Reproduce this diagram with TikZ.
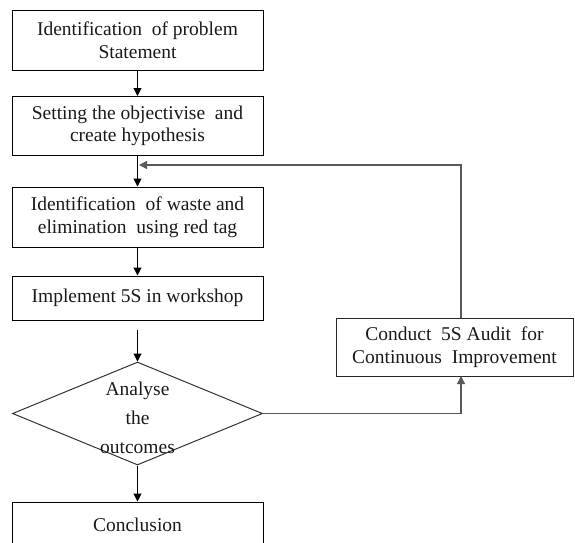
\documentclass[tikz,border=0pt]{standalone}
\usepackage{fontspec}
\setmainfont{Liberation Serif}
\usetikzlibrary{shapes.geometric,arrows.meta}
\begin{document}
\begin{tikzpicture}[x=1pt,y=-1pt,
  every node/.style={font=\fontsize{19.5}{22.5}\selectfont, text=black!90},
  stepbox/.style={draw=black, line width=1pt, rectangle, minimum width=251, inner sep=0, align=center},
  decide/.style={draw=black!80, line width=1pt, diamond, minimum width=250, minimum height=103, inner sep=0},
  flow/.style={draw=black, line width=1pt, -{Triangle[length=8pt,width=8pt]}},
  back/.style={draw=black!65, line width=1.3pt, -{Triangle[length=8pt,width=8pt]}}]
\useasboundingbox (0,0) rectangle (575,542);
\node[stepbox, minimum height=60] (s1) at (137.5,40) {Identification\ \ of problem\\Statement};
\node[stepbox, minimum height=59] (s2) at (137.5,126) {Setting the objectivise\ \ and\\create hypothesis};
\node[stepbox, minimum height=60] (s3) at (137.5,217) {Identification\ \ of waste and\\elimination\ \ using red tag};
\node[stepbox, minimum height=44] (s4) at (137.5,298) {Implement 5S in workshop};
\node[decide] (d) at (137.5,413.5) {};
\node[align=center, font=\fontsize{19.5}{29}\selectfont, inner sep=0] (dt) at (137.5,418) {Analyse\\the\\outcomes};
\node[stepbox, minimum height=46] (s5) at (137.5,525) {Conclusion};
\node[stepbox, draw=black!85, minimum width=237, minimum height=58] (audit) at (454.5,347) {Conduct\ \ 5S Audit\ \ for\\Continuous\ \ Improvement};
\coordinate (join) at (137.5,165);
\coordinate (upper) at (461,318);
\coordinate (lower) at (461,376);
\draw[flow] (s1) -- (s2);
\draw[flow] (s2) -- (s3);
\draw[flow] (s3) -- (s4);
\draw[flow, shorten <=9pt] (s4) -- (d);
\draw[flow] (d) -- (s5);
\draw[back] (d.east) -| (lower);
\draw[back] (upper) |- ([xshift=1.5pt]join);
\end{tikzpicture}
\end{document}
